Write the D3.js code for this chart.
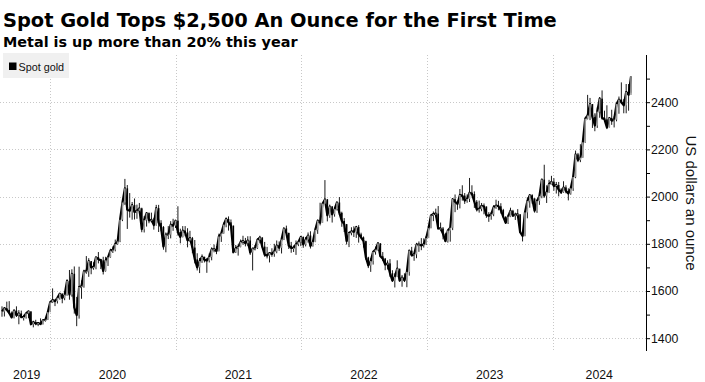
<!DOCTYPE html>
<html>
<head>
<meta charset="utf-8">
<script src="https://cdn.jsdelivr.net/npm/d3@7"></script>
<style>
html,body{margin:0;padding:0;background:#fff;}
svg{display:block;}
</style>
</head>
<body>
<svg id="chart" width="705" height="382"></svg>
<script>
// ---------------- DATA (weekly, Fridays from 2019-08-16 to 2024-08-16) ----------------
const title = "Spot Gold Tops $2,500 An Ounce for the First Time";
const subtitle = "Metal is up more than 20% this year";
const seriesName = "Spot gold";
const yAxisLabel = "US dollars an ounce";
const firstWeek = "2019-08-16";
const yearLabels = ["2019", "2020", "2021", "2022", "2023", "2024"];
const yTickValues = [1400, 1600, 1800, 2000, 2200, 2400];
const yMinorTicks = [1400, 1500, 1600, 1700, 1800, 1900, 2000, 2100, 2200, 2300, 2400, 2500];

const weeklyClose = [
  // 2019
  1513,1527,1520,1507,1488,1517,1497,1505,1489,1490,1505,1514,1459,1468,1462,1464,1460,1476,1478,1510,
  // 2020
  1552,1562,1557,1571,1589, 1570,1584,1643,1585, 1673,1530,1498,1617, 1620,1683,1683,1727,
  1700,1702,1743,1735,1730, 1685,1730,1743,1771, 1775,1799,1810,1902,1975, 2035,1944,1940,1964,
  1934,1940,1950,1862, 1900,1930,1899,1902,1879, 1951,1889,1871,1788, 1839,1839,1881,1877,
  // 2021
  1898,1850,1829,1856,1848, 1814,1824,1784,1734, 1700,1727,1745,1732, 1729,1744,1777,1777,1769,
  1831,1844,1881,1905, 1891,1877,1764,1781, 1787,1808,1812,1802,1814, 1763,1780,1781,1817,
  1827,1788,1754,1750, 1761,1757,1768,1793,1783, 1818,1865,1846,1792, 1783,1783,1798,1808,1829,
  // 2022
  1797,1818,1835,1791, 1808,1859,1898,1889, 1970,1988,1921,1958, 1925,1947,1975,1931,1897,
  1883,1811,1846,1853, 1851,1871,1840,1827, 1811,1742,1708,1727,1766, 1775,1802,1747,1737,
  1712,1717,1675,1644,1660, 1695,1644,1657,1645, 1681,1771,1751,1755, 1797,1797,1793,1798,1824,
  // 2023
  1866,1920,1926,1928, 1865,1865,1842,1811, 1856,1868,1989,1978,1969, 2007,2004,1983,1990,
  2017,2011,1978,1946, 1948,1961,1958,1921,1919, 1925,1955,1962,1959, 1943,1914,1889,1915,
  1940,1919,1924,1925,1849, 1833,1933,1981,2006, 1992,1940,1981,2002, 2072,2004,2019,2053,2063,
  // 2024
  2045,2049,2029,2018, 2039,2024,2013,2035, 2083,2179,2155,2165,2230, 2330,2344,2392,2337,
  2301,2360,2415,2334,2327, 2293,2333,2322,2326, 2392,2411,2400,2387, 2443,2431,2508
];

const weeklyHigh = [
  // 2019
  1535,1531,1555,1557,1513,1522,1535,1519,1517,1499,1506,1516,1512,1474,1478,1466,1484,1480,1482,1514,
  // 2020
  1555,1611,1563,1575,1591, 1589,1585,1649,1689, 1692,1704,1575,1703, 1645,1690,1748,1739,
  1722,1722,1745,1765,1736, 1745,1745,1745,1779, 1789,1818,1815,1905,1983, 2075,2049,2015,1977,
  1992,1966,1973,1953, 1917,1932,1933,1932,1910, 1965,1965,1900,1875, 1848,1875,1896,1906,
  // 2021
  1899,1959,1864,1875,1875, 1866,1855,1829,1816, 1760,1740,1755,1745, 1740,1759,1785,1797,1790,
  1843,1845,1890,1912, 1916,1903,1877,1795, 1790,1818,1834,1825,1832, 1832,1783,1795,1823,
  1834,1827,1808,1787, 1765,1781,1800,1814,1810, 1823,1868,1877,1847, 1808,1793,1814,1812,1831,
  // 2022
  1831,1829,1848,1853, 1810,1865,1902,1974, 1974,2070,1990,1966, 1960,1950,1978,1998,1936,
  1909,1884,1849,1870, 1874,1876,1879,1847, 1831,1813,1745,1739,1767, 1788,1807,1802,1765,
  1740,1730,1735,1688,1675, 1730,1691,1668,1675, 1684,1773,1787,1761, 1804,1810,1824,1823,1833,
  // 2023
  1869,1922,1937,1949, 1960,1890,1871,1847, 1858,1871,1990,2009,1984, 2032,2048,2015,2009,
  2079,2048,2022,1985, 1983,1973,1971,1958,1934, 1935,1964,1987,1982, 1972,1948,1917,1923,
  1953,1944,1932,1947,1925, 1848,1933,1997,2009, 2010,1993,1987,2008, 2075,2135,2048,2071,2088,
  // 2024
  2078,2062,2062,2035, 2065,2048,2035,2041, 2088,2195,2185,2222,2236, 2330,2431,2418,2392,
  2353,2378,2422,2450,2364, 2387,2335,2368,2340, 2392,2424,2484,2413, 2477,2477,2509
];

const weeklyLow = [
  // 2019
  1491,1492,1517,1502,1485,1484,1490,1459,1487,1475,1483,1485,1456,1446,1455,1451,1456,1458,1470,1477,
  // 2020
  1517,1549,1536,1547,1563, 1548,1561,1580,1563, 1576,1504,1451,1483, 1567,1614,1673,1660,
  1671,1690,1692,1717,1693, 1670,1682,1706,1741, 1761,1768,1796,1807,1896, 1965,1863,1911,1902,
  1903,1906,1929,1849, 1848,1873,1887,1891,1860, 1877,1850,1853,1775, 1764,1820,1823,1855,
  // 2021
  1867,1835,1802,1827,1832, 1785,1809,1760,1717, 1687,1676,1719,1721, 1677,1721,1730,1764,1756,
  1768,1808,1843,1870, 1856,1870,1761,1761, 1750,1785,1796,1789,1790, 1753,1687,1772,1778,
  1802,1782,1745,1738, 1721,1745,1745,1760,1770, 1759,1816,1842,1778, 1762,1765,1753,1790,1790,
  // 2022
  1783,1789,1805,1780, 1788,1807,1842,1878, 1890,1976,1895,1910, 1890,1915,1941,1922,1872,
  1850,1797,1786,1836, 1829,1825,1805,1822, 1784,1732,1697,1681,1712, 1754,1771,1745,1727,
  1688,1691,1660,1639,1615, 1660,1640,1618,1638, 1616,1665,1747,1728, 1739,1766,1773,1784,1795,
  // 2023
  1825,1866,1896,1912, 1861,1856,1819,1808, 1805,1809,1858,1934,1944, 1950,1983,1969,1974,
  1977,2006,1952,1937, 1932,1938,1925,1910,1893, 1902,1917,1948,1942, 1928,1910,1885,1884,
  1913,1915,1901,1913,1846, 1810,1832,1908,1953, 1970,1932,1931,1965, 1993,1995,1973,2016,2052,
  // 2024
  2025,2013,2001,2011, 2016,2014,1984,2008, 2024,2078,2146,2146,2165, 2228,2327,2324,2291,
  2277,2291,2334,2326,2324, 2286,2293,2304,2293, 2319,2351,2394,2353, 2353,2364,2440
];

// ---------------- LAYOUT ----------------
const W = 705, H = 382;
const plotLeft = 4, axisX = 646, plotTop = 55, plotBottom = 351;

const svg = d3.select("#chart");
svg.append("rect").attr("width", W).attr("height", H).attr("fill", "#fff");

const parse = d3.timeParse("%Y-%m-%d");
const start = parse(firstWeek);
const weeks = weeklyClose.map((c, i) => ({
  date: d3.timeDay.offset(start, 7 * i),
  close: c,
  open: i > 0 ? weeklyClose[i - 1] : c,
  high: weeklyHigh[i],
  low: weeklyLow[i]
}));

const x = d3.scaleTime()
  .domain([new Date(2020, 0, 1), new Date(2024, 0, 1)])
  .range([49.5, 552.5]);
const y = d3.scaleLinear().domain([1350, 2600]).range([plotBottom - 1, plotTop]);

const sans = "'Liberation Sans', Arial, sans-serif";

// Title / subtitle
svg.append("text").attr("x", 3).attr("y", 27)
  .attr("font-family", "'DejaVu Sans', Verdana, sans-serif").attr("font-weight", "bold")
  .attr("font-size", 19.4).attr("fill", "#000").text(title);
svg.append("text").attr("x", 3).attr("y", 47)
  .attr("font-family", "'DejaVu Sans', Verdana, sans-serif").attr("font-weight", "bold")
  .attr("font-size", 14.4).attr("fill", "#000").text(subtitle);

// Gridlines
const grid = svg.append("g");
grid.selectAll("line.h").data(yTickValues).join("line")
  .attr("x1", 0).attr("x2", axisX)
  .attr("y1", d => Math.round(y(d)) + 0.5).attr("y2", d => Math.round(y(d)) + 0.5)
  .attr("stroke", "#c8c8c8").attr("stroke-width", 1).attr("stroke-dasharray", "1,2");
const yearStarts = d3.timeYear.range(new Date(2020, 0, 1), new Date(2024, 0, 2));
grid.selectAll("line.v").data(yearStarts).join("line")
  .attr("x1", d => Math.round(x(d)) + 0.5).attr("x2", d => Math.round(x(d)) + 0.5)
  .attr("y1", plotTop).attr("y2", plotBottom + 1)
  .attr("stroke", "#c8c8c8").attr("stroke-width", 1).attr("stroke-dasharray", "1,2");

// Legend
const leg = svg.append("g");
leg.append("rect").attr("x", 3).attr("y", 53).attr("width", 66).attr("height", 25).attr("fill", "#f0f0f0");
leg.append("rect").attr("x", 9).attr("y", 62.5).attr("width", 7.5).attr("height", 7.5).attr("fill", "#000");
leg.append("text").attr("x", 18.5).attr("y", 70.5).attr("font-family", sans)
  .attr("font-size", 10.8).attr("fill", "#111").text(seriesName);

// Price series: close line + weekly candles
const series = svg.append("g");
const line = d3.line().x(d => x(d.date)).y(d => y(d.close)).curve(d3.curveLinear);
series.append("path").datum(weeks).attr("d", line)
  .attr("fill", "none").attr("stroke", "#000").attr("stroke-width", 2.2)
  .attr("stroke-linejoin", "round");
series.selectAll("line.wick").data(weeks).join("line").attr("class", "wick")
  .attr("x1", d => x(d.date)).attr("x2", d => x(d.date))
  .attr("y1", d => y(d.high)).attr("y2", d => y(d.low))
  .attr("stroke", "#000").attr("stroke-width", 0.9);
series.selectAll("rect.body").data(weeks).join("rect").attr("class", "body")
  .attr("x", d => x(d.date) - 0.8)
  .attr("width", 1.6)
  .attr("y", d => y(Math.max(d.open, d.close)))
  .attr("height", d => Math.max(1, Math.abs(y(d.open) - y(d.close))))
  .attr("fill", d => d.close < d.open ? "#000" : "#9a9a9a");

// Right axis
const axis = d3.axisRight(y).tickValues(yMinorTicks).tickSize(4)
  .tickFormat(d => yTickValues.includes(d) ? d : "");
const gAxis = svg.append("g").attr("transform", `translate(${axisX},0)`).call(axis);
gAxis.select(".domain").attr("d", `M0.5,${plotTop}V${plotBottom}`).attr("stroke", "#000");
gAxis.selectAll(".tick line").attr("stroke", "#000").attr("x1", 0.5);
gAxis.selectAll(".tick text").attr("x", 5).attr("font-family", sans).attr("font-size", 12.3).attr("fill", "#111");

// Y label
svg.append("text").attr("transform", `translate(686,203) rotate(90)`)
  .attr("text-anchor", "middle").attr("font-family", sans).attr("font-size", 15)
  .attr("fill", "#111").text(yAxisLabel);

// X year labels centered within each year's visible span
const xLabels = svg.append("g");
xLabels.selectAll("text").data(yearLabels).join("text")
  .attr("x", d => {
    const yr = +d;
    const a = Math.max(plotLeft, x(new Date(yr, 0, 1)));
    const b = Math.min(axisX, x(new Date(yr + 1, 0, 1)));
    return (a + b) / 2;
  })
  .attr("y", 379).attr("text-anchor", "middle")
  .attr("font-family", sans).attr("font-size", 12.3).attr("fill", "#111").text(d => d);
</script>
</body>
</html>
